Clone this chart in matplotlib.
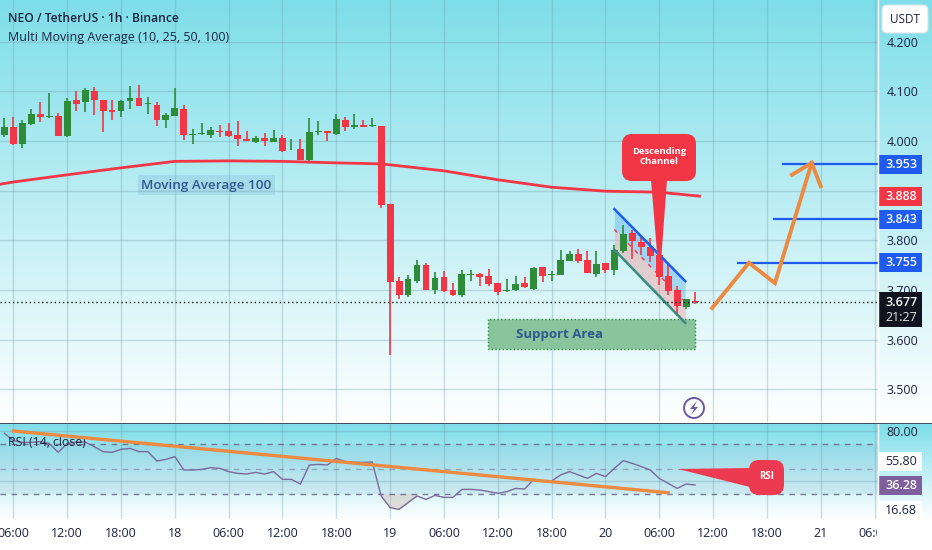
import matplotlib
matplotlib.use('Agg')
import matplotlib.pyplot as plt
import numpy as np
from matplotlib.patches import FancyBboxPatch, Polygon, Rectangle, Circle
from matplotlib.transforms import Bbox

plt.rcParams['font.family'] = ['Open Sans', 'DejaVu Sans']

## Candles, one per hour, first one is 05:00 on the 17th
opens = [4.012, 4.028, 3.994, 4.034, 4.054, 4.048, 4.050, 4.010, 4.082, 4.079, 4.100, 4.082, 4.062, 4.060, 4.081, 4.087,
         4.074, 4.072, 4.042, 4.051, 4.064, 4.013, 4.015, 4.012, 4.020, 4.020, 4.012, 4.004, 3.998, 4.006, 3.998, 4.006,
         3.981, 3.984, 3.962, 4.019, 4.020, 4.014, 4.042, 4.028, 4.032, 4.031, 4.030, 3.873, 3.719, 3.690, 3.719, 3.751,
         3.700, 3.726, 3.701, 3.690, 3.730, 3.733, 3.728, 3.714, 3.698, 3.700, 3.714, 3.703, 3.746, 3.730, 3.731, 3.758,
         3.773, 3.760, 3.733, 3.755, 3.740, 3.778, 3.814, 3.797, 3.787, 3.771, 3.728, 3.700, 3.666, 3.679]
closes = [4.028, 3.994, 4.036, 4.054, 4.048, 4.050, 4.011, 4.081, 4.075, 4.103, 4.083, 4.060, 4.059, 4.081, 4.087, 4.071,
          4.075, 4.042, 4.052, 4.066, 4.012, 4.014, 4.016, 4.022, 4.019, 4.010, 4.004, 4.001, 4.007, 4.001, 4.007, 3.980,
          3.982, 3.962, 4.018, 4.020, 4.016, 4.044, 4.028, 4.032, 4.028, 4.033, 3.871, 3.717, 3.690, 3.722, 3.751, 3.701,
          3.724, 3.698, 3.690, 3.733, 3.731, 3.726, 3.712, 3.697, 3.700, 3.712, 3.706, 3.745, 3.728, 3.731, 3.760, 3.773,
          3.758, 3.734, 3.753, 3.740, 3.781, 3.812, 3.798, 3.786, 3.769, 3.727, 3.699, 3.668, 3.683, 3.677]
highs = [4.046, 4.048, 4.042, 4.064, 4.078, 4.096, 4.057, 4.086, 4.100, 4.107, 4.109, 4.082, 4.083, 4.083, 4.111, 4.113,
         4.088, 4.078, 4.057, 4.107, 4.073, 4.025, 4.037, 4.028, 4.032, 4.037, 4.041, 4.020, 4.011, 4.016, 4.022, 4.013,
         4.005, 4.005, 4.046, 4.041, 4.020, 4.054, 4.049, 4.054, 4.042, 4.046, 4.031, 3.873, 3.727, 3.731, 3.761, 3.755,
         3.737, 3.739, 3.714, 3.741, 3.741, 3.734, 3.742, 3.714, 3.722, 3.728, 3.726, 3.747, 3.746, 3.739, 3.780, 3.778,
         3.782, 3.778, 3.778, 3.755, 3.791, 3.830, 3.821, 3.806, 3.805, 3.780, 3.753, 3.708, 3.683, 3.696]
lows = [4.009, 3.992, 3.985, 4.032, 4.039, 4.046, 4.011, 4.009, 4.061, 4.058, 4.052, 4.019, 4.042, 4.049, 4.065, 4.071,
        4.054, 4.031, 4.026, 4.051, 4.003, 3.994, 4.012, 4.007, 4.008, 4.008, 3.990, 3.999, 3.995, 3.990, 3.998, 3.978,
        3.981, 3.962, 3.959, 4.012, 3.999, 4.012, 4.021, 4.024, 4.028, 4.028, 3.865, 3.570, 3.682, 3.686, 3.715, 3.701,
        3.692, 3.696, 3.688, 3.686, 3.719, 3.708, 3.708, 3.690, 3.696, 3.698, 3.705, 3.700, 3.717, 3.719, 3.731, 3.758,
        3.755, 3.734, 3.727, 3.734, 3.731, 3.774, 3.763, 3.771, 3.757, 3.710, 3.690, 3.648, 3.661, 3.672]

## Moving average 100
ma_hours = [-1.5, 0, 6, 12, 18, 24, 30, 36, 41, 48, 54, 60, 66, 72, 76.5]
ma_values = [3.913, 3.9175, 3.932, 3.946, 3.959, 3.960, 3.959, 3.956, 3.954, 3.940, 3.922, 3.907, 3.899, 3.897, 3.889]

## RSI, hourly
rsi_start = -1
rsi_values = [78.1, 72.3, 70.7, 70.9, 71.5, 70.1, 62.9, 70.1, 71.2, 71.2, 67.5, 63.5, 62.9, 65.3, 66.1, 63.5,
              63.5, 56.0, 57.3, 59.5, 48.8, 48.8, 49.3, 50.7, 50.1, 47.5, 46.1, 45.6, 46.9, 45.6, 47.5, 41.3,
              41.3, 37.6, 52.8, 53.3, 52.8, 58.1, 55.5, 54.9, 54.9, 55.2, 28.0, 18.7, 17.3, 22.7, 28.0, 25.3,
              28.5, 26.9, 26.9, 33.3, 33.3, 32.8, 31.5, 30.1, 31.5, 34.1, 33.6, 41.3, 39.5, 40.0, 44.8, 47.5,
              44.8, 42.1, 46.1, 43.5, 50.1, 56.3, 54.1, 51.5, 48.8, 42.1, 38.1, 34.1, 37.6, 36.8]

## Drawings
channel_hours = [67, 74.9]
channel_top = [3.863, 3.718]
channel_mid = [3.822, 3.676]
channel_bot = [3.781, 3.634]
support_hours = [52.9, 76.0]
support_prices = [3.581, 3.642]
target_prices = [3.953, 3.843, 3.755]
target_starts = [85.8, 84.8, 80.8]
path_hours = [77.9, 82.0, 84.9, 89.0]
path_prices = [3.664, 3.755, 3.714, 3.956]
arrow_hours = [86.8, 89.0, 90.0]
arrow_prices = [3.932, 3.956, 3.909]
rsi_trend_hours = [0, 73]
rsi_trend_values = [80.0, 30.6]

## Axis labels
price_ticks = [4.2, 4.1, 4.0, 3.9, 3.8, 3.7, 3.6, 3.5]
time_ticks = [0, 6, 12, 18, 24, 30, 36, 42, 48, 54, 60, 66, 72, 78, 84, 90, 96]
time_labels = ['06:00', '12:00', '18:00', '18', '06:00', '12:00', '18:00', '19', '06:00', '12:00', '18:00', '20',
               '06:00', '12:00', '18:00', '21', '06:00']

RED = '#f23645'
GREEN = '#2e8b3a'
BLUE = '#1e5bf0'
ORANGE = '#ec8a42'
INK = '#1c2340'
GRID = '#6f9aa6'

W, H = 932, 550
fig = plt.figure(figsize=(W / 100, H / 100), dpi=100)


def pane(top, bottom):
    return fig.add_axes([0, 1 - bottom / H, 878 / W, (bottom - top) / H])


# Background gradients sit on their own axes in pixel coordinates
bg = fig.add_axes([0, 0, 1, 1], zorder=-1)
bg.axis('off')
grad = np.zeros((256, 1, 3))
top_col = np.array([0x7e, 0xde, 0xe9]) / 255
for i in range(256):
    grad[i, 0] = top_col + (1 - top_col) * (i / 255)
bg.imshow(grad, extent=[0, W, 422, 0], aspect='auto')
bg.imshow(grad, extent=[0, W, 520, 424], aspect='auto')
bg.set_xlim(0, W)
bg.set_ylim(H, 0)

ax = pane(0, 422)
rsi = pane(424, 519)
for a in (ax, rsi):
    a.patch.set_alpha(0)
    a.set_xlim(-1.494, 96.39)
    for s in a.spines.values():
        s.set_visible(False)
    a.set_xticks(time_ticks)
    a.grid(True, color=GRID, alpha=0.33, lw=1)
    a.set_axisbelow(True)
    a.tick_params(length=0)
    a.yaxis.tick_right()

ax.set_ylim(3.4346, 4.2837)
ax.set_yticks(price_ticks)
ax.set_yticklabels(['%.3f' % p for p in price_ticks], fontsize=9, color=INK)
ax.tick_params(axis='y', pad=6)
ax.tick_params(axis='x', labelbottom=False)

## Channel and support under the candles
ch = np.array(channel_hours)
ax.fill_between(ch, channel_mid, channel_top, color='#5aaeea', alpha=0.4, lw=0, zorder=1)
ax.fill_between(ch, channel_bot, channel_mid, color='#f0a8a8', alpha=0.5, lw=0, zorder=1)
ax.plot(ch, channel_mid, color=RED, lw=1, ls=(0, (3, 4)), zorder=1.5)

ax.fill_between(support_hours, support_prices[0], support_prices[1], facecolor='#88c49c', edgecolor='#2e8b3a',
                lw=1, ls=':', zorder=1.2)

## Candles
hours = np.arange(len(opens)) - 1
o, c, hi, lo = map(np.array, (opens, closes, highs, lows))
up = c >= o
cols = np.where(up, GREEN, RED)
ax.vlines(hours, lo, hi, colors=cols, lw=1.2, zorder=2)
ax.bar(hours, np.maximum(np.abs(c - o), 0.0015), bottom=np.minimum(o, c), width=0.76, color=cols, zorder=2.5)

ax.plot(ma_hours, ma_values, color=RED, lw=2, zorder=3)
ax.plot(ch, channel_top, color=BLUE, lw=1.8, zorder=3)
ax.plot(ch, channel_bot, color='#3a8a80', lw=1.8, zorder=3)

ax.axhline(closes[-1], color='#111111', lw=1, ls=(0, (1, 2)), zorder=3)

for p, s in zip(target_prices, target_starts):
    ax.plot([s, 96.39], [p, p], color=BLUE, lw=1.6, zorder=3)
ax.plot(path_hours, path_prices, color=ORANGE, lw=2.8, zorder=4, solid_joinstyle='miter')
ax.plot(arrow_hours, arrow_prices, color=ORANGE, lw=2.8, zorder=4, solid_joinstyle='miter')

ax.text(60.9, np.mean(support_prices), 'Support Area', color='#2f5a8f', fontsize=9.5,
        fontweight='bold', ha='center', va='center', zorder=5)
ax.text(21.5, 3.9105, 'Moving Average 100', color='#2f5a8f', fontsize=9.7, fontweight='semibold', ha='center',
        va='center', zorder=5, bbox=dict(facecolor='#7fb5d5', alpha=0.3, edgecolor='none', pad=2.5))

ax.text(8 / 878, 1 - 18 / 422, 'NEO / TetherUS · 1h · Binance', transform=ax.transAxes, fontsize=8.7, color=INK,
        fontweight='semibold', va='center')
ax.text(8 / 878, 1 - 37 / 422, 'Multi Moving Average (10, 25, 50, 100)', transform=ax.transAxes, fontsize=9,
        color=INK, va='center')

## RSI pane
rsi.set_ylim(9.6, 85.6)
rsi.set_yticks([80, 40])
rsi.set_yticklabels(['80.00', ''], fontsize=9, color=INK)
rsi.tick_params(axis='y', pad=6)
rsi.axhspan(30, 70, color='#4f86b8', alpha=0.1, lw=0)
for level in (70, 50, 30):
    rsi.axhline(level, color='#6b6a8c', lw=1, ls=(0, (4, 4)), alpha=0.9 if level != 50 else 0.5)
rsi_hours = np.arange(len(rsi_values)) + rsi_start
rsi_arr = np.array(rsi_values)
rsi.fill_between(rsi_hours, rsi_arr, 30, where=(rsi_arr < 30) & (rsi_hours <= 45), color='#c9a8a0', alpha=0.35,
                 lw=0, interpolate=True)
rsi.plot(rsi_hours, rsi_arr, color='#7a6a9a', lw=1)
rsi.plot(rsi_trend_hours, rsi_trend_values, color=ORANGE, lw=2.4, zorder=4)
rsi.text(8 / 878, 1 - 18 / 95, 'RSI (14, close)', transform=rsi.transAxes, fontsize=8.8, color=INK, va='center')

rsi.set_xticklabels(time_labels, fontsize=9, color=INK)
rsi.tick_params(axis='x', pad=6)
clip = Bbox([[0, 0], [877, H]])
for t in rsi.get_xticklabels():
    t.set_clip_box(clip)
    t.set_clip_on(True)

## Overlay in pixel coordinates for the call-outs and price tags
over = fig.add_axes([0, 0, 1, 1], zorder=10)
over.set_xlim(0, W)
over.set_ylim(H, 0)
over.axis('off')


def callout(x0, y0, x1, y1, tail, text, color, size):
    over.add_patch(Polygon(tail, closed=True, color=color, lw=0))
    over.add_patch(FancyBboxPatch((x0 + 10, y0 + 10), x1 - x0 - 20, y1 - y0 - 20, boxstyle='round,pad=10,rounding_size=10',
                                  facecolor=color, edgecolor='none', mutation_aspect=1))
    over.text((x0 + x1) / 2, (y0 + y1) / 2 - 1, text, color='white', fontsize=size, ha='center', va='center',
              fontweight='bold', linespacing=1.1)


callout(622, 134, 696, 181, [(651, 180), (667, 180), (659.5, 282)], 'Descending\nChannel', RED, 6.8)
callout(749, 460, 784, 495, [(750, 468), (750, 487), (678, 469)], 'RSI', '#ee3a50', 7)

over.plot([878, 878], [0, 520], color='white', lw=1)
over.plot([0, W], [423, 423], color='#2a2e4a', lw=1.3)
over.plot([0, W], [422, 422], color='white', lw=0.8)


def y_of(axes, v):
    return H - axes.transData.transform((0, v))[1]


def tag(axes, v, text, color, txt='white', weight='semibold', h=19):
    y = y_of(axes, v)
    over.add_patch(Rectangle((879, y - h / 2), 43, h, facecolor=color, edgecolor='none'))
    over.text(901, y, text, color=txt, fontsize=9, ha='center', va='center', fontweight=weight)


tag(ax, 3.953, '3.953', BLUE)
tag(ax, 3.888, '3.888', RED)
tag(ax, 3.843, '3.843', BLUE)
tag(ax, 3.755, '3.755', BLUE)
y = y_of(ax, closes[-1])
over.add_patch(Rectangle((879, y - 9.5), 43, 35, facecolor='#0f1420', edgecolor='none'))
over.text(901, y + 0.5, '%.3f' % closes[-1], color='white', fontsize=9, ha='center', va='center', fontweight='semibold')
over.text(901, y + 16, '21:27', color='#e8e0e0', fontsize=9, ha='center', va='center')

tag(rsi, 55.8, '55.80', 'white', txt=INK, weight='normal')
tag(rsi, 36.28, '36.28', '#7e5f9e')
tag(rsi, 16.68, '16.68', 'white', txt=INK, weight='normal')

# The top of the 4.200 label is hidden under the unit button
over.add_patch(Rectangle((880, 30), 48, 7, facecolor='#86e0ea', edgecolor='none'))
over.add_patch(FancyBboxPatch((885, 8), 40, 22, boxstyle='round,pad=3,rounding_size=5', facecolor='white',
                              edgecolor='#d8e4ea', lw=0.8))
over.text(905, 19.5, 'USDT', color=INK, fontsize=8.5, ha='center', va='center')

## Bolt badge
over.add_patch(Circle((694, 408), 10, facecolor='none', edgecolor='#6a5a9e', lw=1.4))
over.add_patch(Polygon([(697, 401), (690, 409), (694, 409), (691, 415), (698, 407), (694, 407)], closed=True,
                       color='#6a5a9e', lw=0))

fig.savefig('out.png', dpi=100)
